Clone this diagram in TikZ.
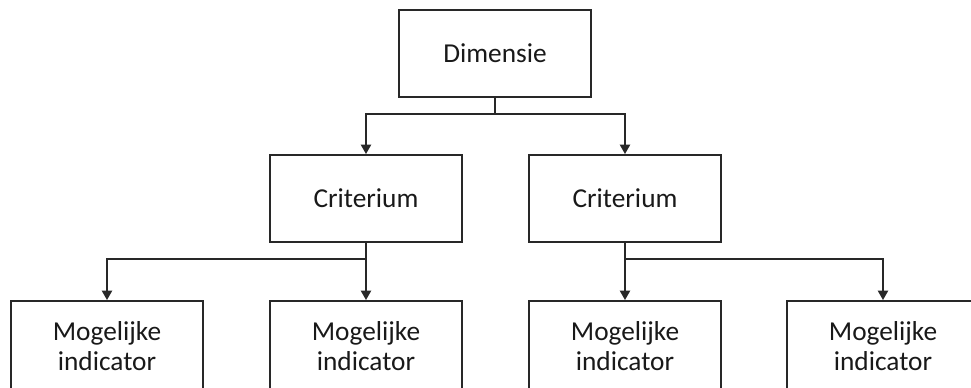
\documentclass[tikz,border=0pt]{standalone}
\usepackage{fontspec}
\setmainfont{Carlito}
\usetikzlibrary{positioning, arrows.meta}
\definecolor{linegray}{RGB}{40,40,40}
\tikzstyle{block} = [rectangle, draw=linegray, line width=1.4pt, align=center,
                     minimum width=144pt, minimum height=65.25pt, inner sep=0pt]
\tikzstyle{arrow} = [-{Triangle[length=7pt, width=7.5pt]}, line width=1.4pt, draw=linegray]
\begin{document}
\begin{tikzpicture}[x=0.75pt, y=-0.75pt,
  font=\fontsize{20.5}{22.5}\selectfont, text=black!90,
  leaf/.style={block, minimum height=67.5pt}]
\useasboundingbox (0,0) rectangle (971,387);
\node[block] (dim) at (495,53.5) {Dimensie};
\node[block] (critL) at (366,198.5) {Criterium};
\node[block] (critR) at (625,198.5) {Criterium};
\node[leaf] (ind1) at (107,346) {Mogelijke\\indicator};
\node[leaf] (ind2) at (366,346) {Mogelijke\\indicator};
\node[leaf] (ind3) at (625,346) {Mogelijke\\indicator};
\node[leaf] (ind4) at (883,346) {Mogelijke\\indicator};
\draw[arrow] (dim.south) -- ++(0,16) -| (critL.north);
\draw[arrow] (dim.south) -- ++(0,16) -| (critR.north);
\draw[arrow] (critL.south) -- ++(0,16) -| (ind1.north);
\draw[arrow] (critL.south) -- (ind2.north);
\draw[arrow] (critR.south) -- (ind3.north);
\draw[arrow] (critR.south) -- ++(0,16) -| (ind4.north);
\end{tikzpicture}
\end{document}
